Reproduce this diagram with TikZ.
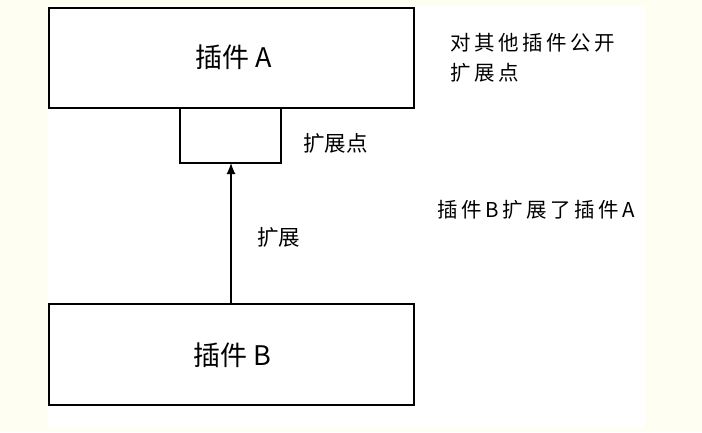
\documentclass[tikz,border=0pt]{standalone}
\usetikzlibrary{arrows.meta}
\usepackage{fontspec}
\newfontfamily\cjk{Noto Sans CJK SC}
\newfontfamily\cjksp[LetterSpace=17]{Noto Sans CJK SC}
\definecolor{cream}{RGB}{254,255,242}
\begin{document}
\begin{tikzpicture}[x=1pt,y=-1pt,
  box/.style={draw=black,line width=1.3pt,fill=white},
  title/.style={font=\cjk\fontsize{27}{30}\selectfont,inner sep=0pt},
  lbl/.style={font=\cjk\fontsize{21.5}{24}\selectfont,inner sep=0pt,anchor=west},
  note/.style={font=\cjksp\fontsize{20.5}{30}\selectfont,inner sep=0pt,anchor=west,align=left}]
\fill[cream] (0,0) rectangle (702,432);
\fill[white] (48,6) rectangle (645,427);
\useasboundingbox (0,0) rectangle (702,432);
\draw[box] (49,8) rectangle (414,108);
\node[title] (a) at (234,57) {插件 A};
\draw[box] (180,108) rectangle (281,163);
\coordinate (ep) at (231,163);
\draw[box] (49,304) rectangle (414,405);
\node[title] (b) at (232,355) {插件 B};
\coordinate (bt) at (231,304);
\draw[line width=1.2pt,-{Latex[length=11pt,width=9pt]}] (bt) -- (ep);
\node[lbl] (l1) at (303,143) {扩展点};
\node[lbl] (l2) at (257,237) {扩展};
\node[note] (n1) at (450,58) {对其他插件公开\\扩展点};
\node[note] (n2) at (437,210) {插件B扩展了插件A};
\end{tikzpicture}
\end{document}
